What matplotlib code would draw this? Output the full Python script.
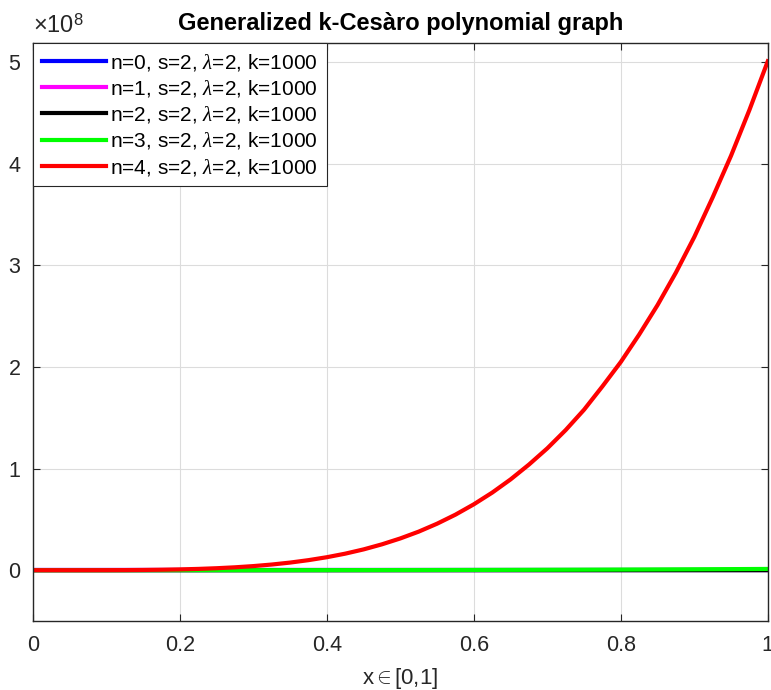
import matplotlib.pyplot as plt
from matplotlib.ticker import FuncFormatter

plt.rcParams['font.family'] = ['Liberation Sans', 'DejaVu Sans']
plt.rcParams['mathtext.fontset'] = 'custom'
plt.rcParams['mathtext.rm'] = 'Liberation Sans'
plt.rcParams['mathtext.it'] = 'Liberation Serif:italic'

# x samples and curve values
x = [0, 0.025, 0.05, 0.075, 0.1, 0.125, 0.15, 0.175, 0.2, 0.225, 0.25,
     0.275, 0.3, 0.325, 0.35, 0.375, 0.4, 0.425, 0.45, 0.475, 0.5,
     0.525, 0.55, 0.575, 0.6, 0.625, 0.65, 0.675, 0.7, 0.725, 0.75,
     0.775, 0.8, 0.825, 0.85, 0.875, 0.9, 0.925, 0.95, 0.975, 1.0]
# values in units of 1e3
n0 = [0] * 41
n1 = [0] * 41
n2 = [0, 0, 0, 0, 0.2, 0.3, 0.5, 0.6, 0.8, 1.0, 1.3,
      1.5, 1.8, 2.1, 2.5, 2.8, 3.2, 3.6, 4.1, 4.5, 5.0,
      5.5, 6.1, 6.6, 7.2, 7.8, 8.5, 9.1, 9.8, 10.5, 11.3,
      12.0, 12.8, 13.6, 14.5, 15.3, 16.2, 17.1, 18.1, 19.0, 20.0]
n3 = [0, 0, 0.2, 0.5, 1.3, 2.4, 4.2, 6.7, 10, 14, 20,
      26, 34, 43, 54, 66, 80, 96, 114, 134, 156,
      181, 208, 238, 270, 305, 343, 384, 429, 476, 527,
      582, 640, 702, 768, 837, 911, 989, 1072, 1158, 1250]
# values in units of 1e6
n4 = [0, 0, 0.003, 0.016, 0.05, 0.12, 0.25, 0.47, 0.8, 1.28, 1.96,
      2.86, 4.06, 5.59, 7.52, 9.91, 12.8, 16.3, 20.5, 25.5, 31.3,
      38.0, 45.8, 54.7, 64.9, 76.4, 89.4, 104, 120, 138, 158,
      181, 205, 232, 261, 293, 328, 367, 408, 453, 501]

labels = [r'n=0, s=2, $\lambda$=2, k=1000',
          r'n=1, s=2, $\lambda$=2, k=1000',
          r'n=2, s=2, $\lambda$=2, k=1000',
          r'n=3, s=2, $\lambda$=2, k=1000',
          r'n=4, s=2, $\lambda$=2, k=1000']
colors = ['#0000ff', '#ff00ff', '#000000', '#00ff00', '#ff0000']
series = [[v * 1e3 for v in n0], [v * 1e3 for v in n1], [v * 1e3 for v in n2],
          [v * 1e3 for v in n3], [v * 1e6 for v in n4]]

fig = plt.figure(figsize=(7.71, 6.9), dpi=100)
ax = fig.add_axes([0.0428, 0.1, 0.953, 0.8377])

for ys, c, lab in zip(series, colors, labels):
    ax.plot(x, ys, color=c, lw=3, label=lab)

ax.set_xlim(0, 1)
ax.set_ylim(-0.5e8, 5.19e8)
ax.set_xticks([0, 0.2, 0.4, 0.6, 0.8, 1])
ax.set_yticks([0, 1e8, 2e8, 3e8, 4e8, 5e8])
ax.xaxis.set_major_formatter(FuncFormatter(lambda v, p: '%g' % v))
ax.yaxis.set_major_formatter(FuncFormatter(lambda v, p: '%g' % (v / 1e8)))
ax.tick_params(direction='in', length=5, width=0.8, colors='#262626',
               labelsize=15.5, top=True, right=True)
ax.tick_params(axis='x', pad=10)
ax.tick_params(axis='y', pad=9)
ax.grid(True, color='#dcdcdc', lw=0.8)
ax.set_axisbelow(True)
for s in ax.spines.values():
    s.set_color('#262626')
    s.set_linewidth(1)

ax.set_title('Generalized k-Cesàro polynomial graph', fontsize=17,
             fontweight='bold', pad=9)
ax.set_xlabel('x$\\in$[0,1]', fontsize=16, color='#262626', labelpad=7)
ax.text(0, 1.008, r'$\times$10$^{8}$', transform=ax.transAxes, fontsize=17,
        color='#262626', va='bottom', ha='left')

leg = ax.legend(loc='upper left', fontsize=15, handlelength=3.1,
                borderaxespad=0, fancybox=False, framealpha=1,
                edgecolor='#262626', labelspacing=0.25, handletextpad=0.2,
                borderpad=0.42, handleheight=0.7)
leg.get_frame().set_linewidth(0.8)

fig.savefig('out.png', dpi=100)
